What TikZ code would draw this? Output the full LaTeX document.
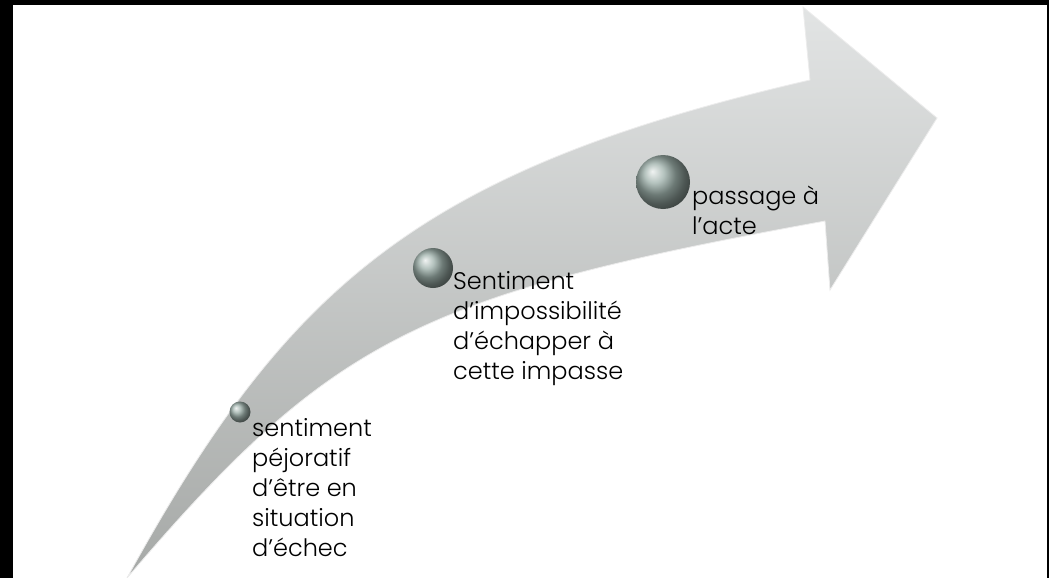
\documentclass[tikz,border=0pt]{standalone}
\usepackage{fontspec}
\IfFontExistsTF{Poppins Light}{\setmainfont{Poppins Light}}{\setmainfont{Poppins}}
\usetikzlibrary{positioning}
\definecolor{arrowtop}{RGB}{226,228,228}
\definecolor{arrowmid}{RGB}{178,181,179}
\definecolor{arrowbot}{RGB}{166,169,167}
\definecolor{pearl}{RGB}{155,174,168}
\tikzstyle{ball} =[circle, inner sep=0pt, outer sep=0pt,
                   ball color=pearl]
\tikzstyle{stage}=[anchor=north west, inner sep=0pt, align=left,
                   font=\fontsize{24}{30}\selectfont]

\begin{document}
\begin{tikzpicture}[x=1pt, y=-1pt]
  % frame
  \fill[black] (0,0) rectangle (1049,578);
  \fill[white] (13,5) rectangle (1047,578);
  \useasboundingbox (0,0) rectangle (1049,578);

  % curved arrow
  \shadedraw[top color=arrowtop, middle color=arrowmid, bottom color=arrowbot,
             draw=white!85!gray, line width=0.8pt, line join=miter]
    (127,578) .. controls (286,289) and (415,171) .. (810,80)
    -- (803,7) -- (937,118) -- (830,290) -- (825,221)
    .. controls (418,295) and (331,339) .. (127,578) -- cycle;

  % steps
  \node[ball, minimum size=21pt] (dot1) at (240,412) {};
  \node[ball, minimum size=40pt] (dot2) at (433,268) {};
  \node[ball, minimum size=54pt] (dot3) at (663,182) {};

  \node[stage] (txt1) at (252,418) {sentiment\\péjoratif\\d’être en\\situation\\d’échec};
  \node[stage] (txt2) at (453,271) {Sentiment\\d’impossibilité\\d’échapper à\\cette impasse};
  \node[stage] (txt3) at (692,186) {passage à\\l’acte};
\end{tikzpicture}
\end{document}
